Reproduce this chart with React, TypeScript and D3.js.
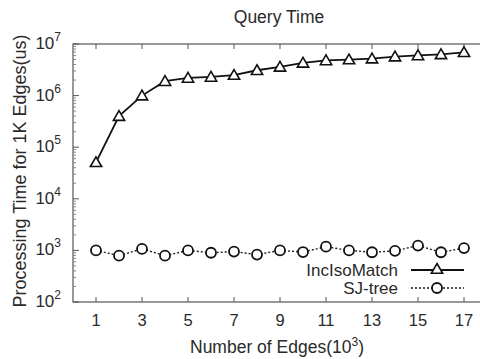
import { useRef, useEffect } from "react"
import * as d3 from "d3"

const edges = d3.range(1, 18)
const incIsoMatch = [5.1e4, 4.0e5, 1.0e6, 1.9e6, 2.2e6, 2.3e6, 2.5e6, 3.1e6, 3.6e6, 4.3e6, 4.8e6, 5.0e6, 5.2e6, 5.7e6, 6.0e6, 6.3e6, 6.9e6]
const sjTree = [1000, 790, 1070, 790, 1000, 900, 950, 830, 1000, 930, 1180, 1000, 920, 980, 1240, 920, 1110]
const xTicks = [1, 3, 5, 7, 9, 11, 13, 15, 17]
const yExponents = [2, 3, 4, 5, 6, 7]

export default function App() {
  const svgRef = useRef<SVGSVGElement | null>(null)

  useEffect(() => {
    if (!svgRef.current) return
    const root = d3.select(svgRef.current)
    root.selectAll("*").remove()

    const left = 73, top = 44, bottom = 302, right = 487
    const x = d3.scaleLinear().domain([0, 18]).range([left, right])
    const y = d3.scaleLog().domain([100, 1e7]).range([bottom, top])
    const font = "'Liberation Sans', Arial, sans-serif"
    const axisColor = "#555"
    const textColor = "#2a2a2a"

    root.append("rect").attr("width", 480).attr("height", 359).attr("fill", "#fff")

    // frame
    root
      .append("rect")
      .attr("x", left)
      .attr("y", top)
      .attr("width", right - left)
      .attr("height", bottom - top)
      .attr("fill", "none")
      .attr("stroke", axisColor)
      .attr("stroke-width", 1.2)

    // x ticks (inward, top and bottom)
    xTicks.forEach((t) => {
      root.append("line").attr("x1", x(t)).attr("x2", x(t)).attr("y1", bottom).attr("y2", bottom - 5).attr("stroke", axisColor)
      root.append("line").attr("x1", x(t)).attr("x2", x(t)).attr("y1", top).attr("y2", top + 5).attr("stroke", axisColor)
      root
        .append("text")
        .attr("x", x(t))
        .attr("y", bottom + 24)
        .attr("text-anchor", "middle")
        .attr("font-family", font)
        .attr("font-size", 16.5)
        .attr("fill", textColor)
        .text(t)
    })

    // y ticks, major + minor
    yExponents.forEach((e) => {
      const v = Math.pow(10, e)
      root.append("line").attr("x1", left).attr("x2", left + 6).attr("y1", y(v)).attr("y2", y(v)).attr("stroke", axisColor)
      const label = root
        .append("text")
        .attr("x", left - 12)
        .attr("y", y(v) + 5)
        .attr("text-anchor", "end")
        .attr("font-family", font)
        .attr("font-size", 17)
        .attr("fill", textColor)
      label.append("tspan").text("10")
      label.append("tspan").attr("dy", -8).attr("font-size", 12).text(e)
      if (e < 7) {
        for (let m = 2; m < 10; m++) {
          root
            .append("line")
            .attr("x1", left)
            .attr("x2", left + 3)
            .attr("y1", y(m * v))
            .attr("y2", y(m * v))
            .attr("stroke", "#888")
        }
      }
    })

    const line = d3
      .line<number>()
      .x((_, i) => x(edges[i]))
      .y((d) => y(d))

    const tri = d3.symbol().type(d3.symbolTriangle).size(55)

    // IncIsoMatch
    root.append("path").datum(incIsoMatch).attr("d", line).attr("fill", "none").attr("stroke", "#111").attr("stroke-width", 1.8)
    root
      .selectAll(".tri")
      .data(incIsoMatch)
      .enter()
      .append("path")
      .attr("class", "tri")
      .attr("d", tri)
      .attr("transform", (d, i) => `translate(${x(edges[i])},${y(d) + 1})`)
      .attr("fill", "#fff")
      .attr("stroke", "#111")
      .attr("stroke-width", 1.6)

    // SJ-tree
    root
      .append("path")
      .datum(sjTree)
      .attr("d", line)
      .attr("fill", "none")
      .attr("stroke", "#222")
      .attr("stroke-width", 1.4)
      .attr("stroke-dasharray", "2,2")
    root
      .selectAll(".circ")
      .data(sjTree)
      .enter()
      .append("circle")
      .attr("class", "circ")
      .attr("cx", (_, i) => x(edges[i]))
      .attr("cy", (d) => y(d))
      .attr("r", 5)
      .attr("fill", "#fff")
      .attr("stroke", "#111")
      .attr("stroke-width", 1.8)

    // legend
    const legend = [
      { name: "IncIsoMatch", ly: 270, dash: null, mark: "tri" },
      { name: "SJ-tree", ly: 288, dash: "2,2", mark: "circ" },
    ]
    legend.forEach((l) => {
      root
        .append("text")
        .attr("x", 398)
        .attr("y", l.ly + 6)
        .attr("text-anchor", "end")
        .attr("font-family", font)
        .attr("font-size", 17)
        .attr("fill", textColor)
        .text(l.name)
      root
        .append("line")
        .attr("x1", 411)
        .attr("x2", 464)
        .attr("y1", l.ly)
        .attr("y2", l.ly)
        .attr("stroke", "#111")
        .attr("stroke-width", l.dash ? 1.4 : 1.8)
        .attr("stroke-dasharray", l.dash)
      if (l.mark === "tri") {
        root
          .append("path")
          .attr("d", tri)
          .attr("transform", `translate(437,${l.ly})`)
          .attr("fill", "#fff")
          .attr("stroke", "#111")
          .attr("stroke-width", 1.6)
      } else {
        root.append("circle").attr("cx", 437).attr("cy", l.ly).attr("r", 5).attr("fill", "#fff").attr("stroke", "#111").attr("stroke-width", 1.8)
      }
    })

    // title and axis labels
    root
      .append("text")
      .attr("x", 279)
      .attr("y", 23)
      .attr("text-anchor", "middle")
      .attr("font-family", font)
      .attr("font-size", 17.5)
      .attr("fill", textColor)
      .text("Query Time")

    const xl = root
      .append("text")
      .attr("x", 277)
      .attr("y", 353)
      .attr("text-anchor", "middle")
      .attr("font-family", font)
      .attr("font-size", 17.5)
      .attr("fill", textColor)
    xl.append("tspan").text("Number of Edges(10")
    xl.append("tspan").attr("dy", -7).attr("font-size", 12).text("3")
    xl.append("tspan").attr("dy", 7).text(")")

    root
      .append("text")
      .attr("transform", "translate(26,171) rotate(-90)")
      .attr("text-anchor", "middle")
      .attr("font-family", font)
      .attr("font-size", 18)
      .attr("fill", textColor)
      .text("Processing Time for 1K Edges(us)")
  }, [])

  return (
    <svg
      ref={svgRef}
      width={480}
      height={359}
      style={{ position: "absolute", left: 0, top: 0, display: "block" }}
    ></svg>
  )
}
